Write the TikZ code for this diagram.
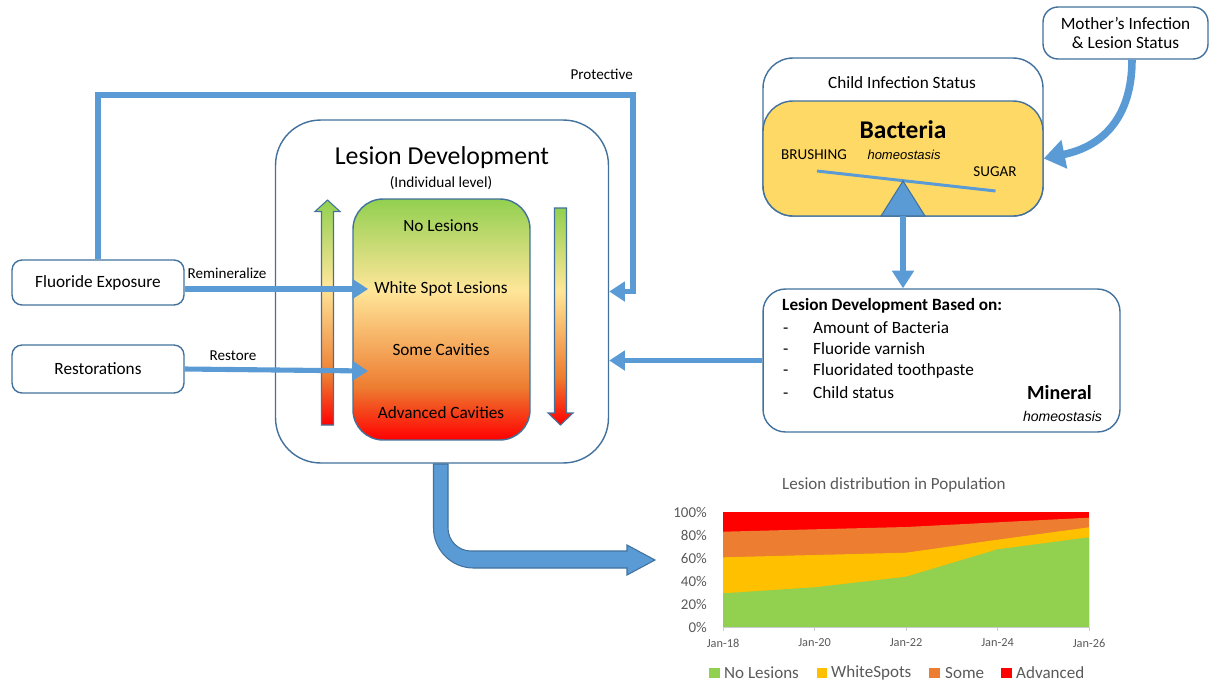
\documentclass[tikz,border=0pt]{standalone}
\usepackage{fontspec}
\setmainfont{Carlito}
\newfontfamily\arialfont{Liberation Sans}
\usetikzlibrary{arrows.meta}

\definecolor{arrowblue}{HTML}{5B9BD5}
\definecolor{edgeblue}{HTML}{41719C}
\definecolor{sandfill}{HTML}{FFD966}
\definecolor{lgreen}{HTML}{92D050}
\definecolor{lyellow}{HTML}{FFE699}
\definecolor{lorange}{HTML}{ED7D31}
\definecolor{lred}{HTML}{FF0000}
\definecolor{cyellow}{HTML}{FFC000}
\definecolor{chartgray}{HTML}{595959}
\colorlet{lpeach}{lorange!45!lyellow}

\pgfdeclareverticalshading{lesionshade}{100bp}{color(0bp)=(lred); color(25bp)=(lred); color(36bp)=(lorange); color(47bp)=(lpeach); color(56bp)=(lyellow); color(75bp)=(lgreen); color(100bp)=(lgreen)}

\tikzset{
  plainbox/.style={draw=edgeblue, line width=0.8pt, fill=white, align=center,
    font=\fontsize{9.8}{11}\selectfont},
  stage/.style={font=\fontsize{9.8}{11}\selectfont},
  listitem/.style={stage, anchor=west, text height=1.5ex, text depth=0.3ex},
  lbl/.style={font=\fontsize{8.6}{10}\selectfont},
  flow/.style={draw=arrowblue, line width=2.9pt, -{Triangle[length=9pt,width=11pt]}},
  axislbl/.style={font=\fontsize{8.5}{10}\selectfont, text=chartgray},
}

\begin{document}
\begin{tikzpicture}[x=0.02cm, y=-0.02cm]
\useasboundingbox (0,0) rectangle (1212,683);

% left side inputs
\node[plainbox, minimum width=3.44cm, minimum height=0.9cm, rounded corners=0.2cm] (fluor) at (98,282.5) {Fluoride Exposure};
\node[plainbox, minimum width=3.44cm, minimum height=0.96cm, rounded corners=0.2cm] (restor) at (98,369) {Restorations};

% individual lesion development
\node[plainbox, minimum width=6.66cm, minimum height=6.86cm, rounded corners=0.9cm] (outer) at (442,291.5) {};
\node[font=\fontsize{14.7}{17}\selectfont] (ldtitle) at (442,158) {Lesion Development};
\node[font=\fontsize{8.7}{10}\selectfont] (ldsub) at (441,183) {(Individual level)};
\node[draw=edgeblue, line width=0.8pt, shade, shading=lesionshade, rounded corners=0.6cm,
  minimum width=3.54cm, minimum height=4.82cm] (stages) at (441.5,319.5) {};
\shadedraw[draw=edgeblue, line width=0.6pt, shading=lesionshade] (321.5,425) -- (321.5,211.5) -- (315,211.5) -- (327.5,200) -- (340,211.5) -- (333.5,211.5) -- (333.5,425) -- cycle;
\shadedraw[draw=edgeblue, line width=0.6pt, shading=lesionshade] (554.5,208) -- (554.5,413) -- (548,413) -- (560.5,425) -- (573,413) -- (566.5,413) -- (566.5,208) -- cycle;
\node[stage] (nol) at (441,226) {No Lesions};
\node[stage] (white) at (441,289) {White Spot Lesions};
\node[stage] (some) at (441,350) {Some Cavities};
\node[stage] (adv) at (441,413) {Advanced Cavities};

% child infection status
\node[plainbox, minimum width=5.6cm, minimum height=3.16cm, rounded corners=0.6cm] (child) at (903,137) {};
\node[stage] (childlbl) at (902,83) {Child Infection Status};
\node[draw=edgeblue, line width=0.8pt, fill=sandfill, rounded corners=0.6cm,
  minimum width=5.6cm, minimum height=2.3cm] (bacteria) at (903,158.5) {};
\node[font=\fontsize{14.5}{17}\selectfont\bfseries] (bactlbl) at (903,130) {Bacteria};
\node[font=\fontsize{8.6}{10}\selectfont] (brush) at (814,155) {BRUSHING};
\node[font=\arialfont\fontsize{7.4}{9}\selectfont\itshape] (bhomeo) at (904,155) {homeostasis};
\node[font=\fontsize{8.6}{10}\selectfont] (sugar) at (995,172) {SUGAR};
\draw[arrowblue, line width=1.7pt] (817,171) -- (995.5,191);
\coordinate (fulcrum) at (903,216);
\filldraw[fill=arrowblue, draw=edgeblue, line width=0.6pt] (903,181) -- (925,216) -- (881,216) -- cycle;

% mother
\node[plainbox, minimum width=3.3cm, minimum height=1.04cm, rounded corners=0.3cm] (mother) at (1125.5,33) {Mother’s Infection\\\& Lesion Status};

% lesion development based on
\node[plainbox, minimum width=7.14cm, minimum height=2.86cm, rounded corners=0.45cm] (ldb) at (941.5,360.5) {};
\node[anchor=west, font=\fontsize{9.8}{11}\selectfont\bfseries] (ldbhead) at (776,306) {Lesion Development Based on:};
\foreach \y/\t in {328/Amount of Bacteria, 349/Fluoride varnish, 370/Fluoridated toothpaste, 393/Child status} {
  \node[listitem] (dash\y) at (777,\y) {-};
  \node[listitem] (item\y) at (807,\y) {\t};
}
\node[font=\fontsize{11.4}{13}\selectfont\bfseries] (mineral) at (1059.5,393) {Mineral};
\node[font=\arialfont\fontsize{8}{10}\selectfont\itshape] (mhomeo) at (1062.5,416) {homeostasis};

% connectors
\coordinate (protc) at (633,95);
\draw[flow] (fluor.north) |- (protc) |- (outer.east);
\node[lbl, anchor=east] (protlbl) at (639,74) {Protective};
\draw[flow] (fluor.east |- white.west) -- (white.west);
\node[lbl] (remlbl) at (227,273) {Remineralize};
\coordinate (restip) at (368,371);
\draw[flow] (restor.east) -- (restip);
\node[lbl] (reslbl) at (233,356) {Restore};
\draw[flow] (ldb.west) -- (outer.east |- ldb.west);
\draw[flow, line width=3.2pt, -{Triangle[length=10pt,width=12pt]}] (fulcrum) -- (ldb.north -| fulcrum);
\draw[flow, line width=4.3pt, -{Triangle[length=12pt,width=16pt]}] ([xshift=0.13cm]mother.south) .. controls (1132,115) and (1105,146) .. (bacteria.east);

% bent arrow to population
\filldraw[fill=arrowblue, draw=edgeblue, line width=0.6pt] (433.5,464) -- (433.5,528) .. controls (433.5,550) and (451.5,568) .. (473.5,568) -- (627,568) -- (627,575) -- (655,560) -- (627,545) -- (627,551) -- (471,551) .. controls (458.3,551) and (448,540.7) .. (448,528) -- (448,464) -- cycle;

% population chart
\node[font=\fontsize{9.7}{11}\selectfont, text=chartgray] (charttitle) at (894,485) {Lesion distribution in Population};
\fill[lred] (723,512) rectangle (1089,627);
\fill[lorange] (723,627) -- (723,531.7) -- (814.5,529.3) -- (906,527) -- (997.5,522.3) -- (1089,517.7) -- (1089,627) -- cycle;
\fill[cyellow] (723,627) -- (723,557.3) -- (814.5,555) -- (906,552.7) -- (997.5,539.7) -- (1089,527.3) -- (1089,627) -- cycle;
\fill[lgreen] (723,627) -- (723,593.3) -- (814.5,587.3) -- (906,576.7) -- (997.5,549.3) -- (1089,537.3) -- (1089,627) -- cycle;
\draw[gray!40] (723,627) -- (1089,627);
\foreach \x/\d in {723/18, 814.5/20, 906/22, 997.5/24, 1089/26} {
  \draw[gray!40] (\x,627) -- (\x,631);
  \node[font=\fontsize{7}{8}\selectfont, text=chartgray] (xl\d) at (\x,643) {Jan-\d};
}
\foreach \v in {0,20,...,100}
  \node[axislbl, anchor=east] (yl\v) at (713,{627-1.15*\v}) {\v\%};

% legend
\fill[lgreen] (709,668) rectangle (720,678);
\node[anchor=west, font=\fontsize{9.7}{11}\selectfont, text=chartgray] (lg1) at (718,673) {No Lesions};
\fill[cyellow] (817,668) rectangle (827,678);
\node[anchor=west, font=\fontsize{9.7}{11}\selectfont, text=chartgray] (lg2) at (825,673) {WhiteSpots};
\fill[lorange] (929,668) rectangle (940,678);
\node[anchor=west, font=\fontsize{9.7}{11}\selectfont, text=chartgray] (lg3) at (939,673) {Some};
\fill[lred] (1001,668) rectangle (1012,678);
\node[anchor=west, font=\fontsize{9.7}{11}\selectfont, text=chartgray] (lg4) at (1010,673) {Advanced};

\end{tikzpicture}
\end{document}
